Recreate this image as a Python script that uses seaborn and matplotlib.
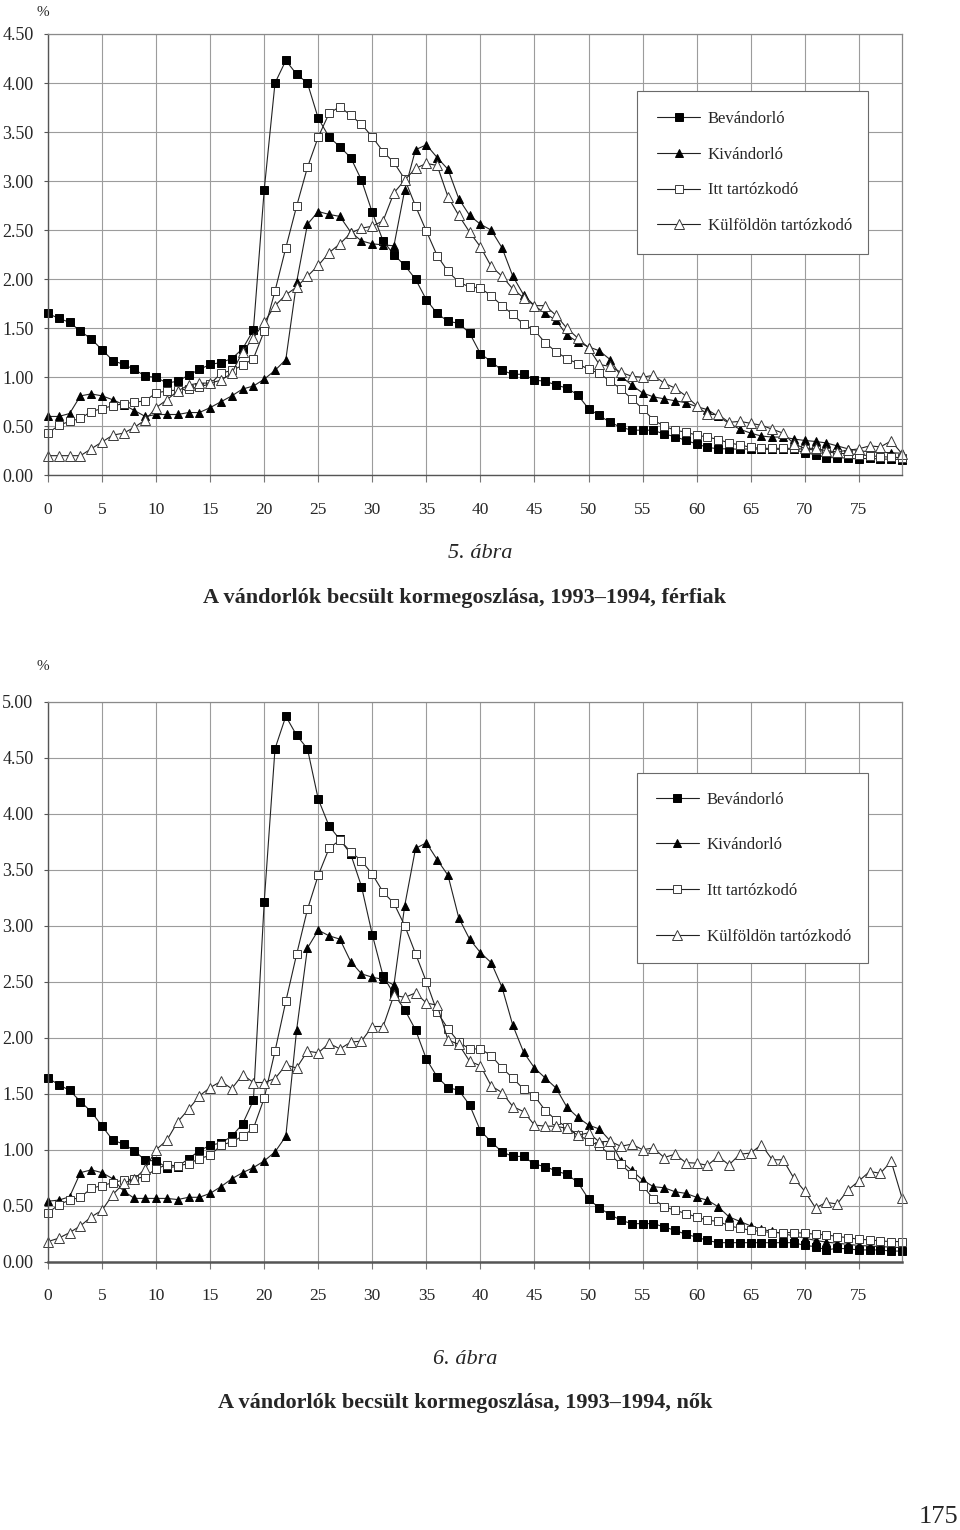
import numpy as np
import matplotlib
matplotlib.use("Agg")
import matplotlib.pyplot as plt
import seaborn as sns

# ---------------- data ----------------
ages = list(range(0, 80))
xtick_vals = list(range(0, 80, 5))
series_names = ["Bevándorló", "Kivándorló", "Itt tartózkodó", "Külföldön tartózkodó"]

# 5. ábra – férfiak
bev_m = [1.65, 1.60, 1.56, 1.47, 1.39, 1.28, 1.17, 1.13, 1.08, 1.01,
         1.00, 0.94, 0.96, 1.02, 1.08, 1.13, 1.15, 1.19, 1.29, 1.48,
         2.91, 4.00, 4.23, 4.09, 4.00, 3.64, 3.45, 3.35, 3.24, 3.01,
         2.68, 2.39, 2.25, 2.14, 2.00, 1.79, 1.65, 1.57, 1.55, 1.45,
         1.24, 1.16, 1.07, 1.03, 1.03, 0.97, 0.96, 0.92, 0.89, 0.82,
         0.68, 0.61, 0.54, 0.49, 0.46, 0.46, 0.46, 0.42, 0.395, 0.355,
         0.32, 0.285, 0.27, 0.27, 0.265, 0.27, 0.265, 0.265, 0.265, 0.265,
         0.23, 0.21, 0.18, 0.18, 0.175, 0.165, 0.175, 0.165, 0.165, 0.16]
kiv_m = [0.60, 0.60, 0.63, 0.81, 0.83, 0.81, 0.77, 0.72, 0.66, 0.60,
         0.62, 0.62, 0.62, 0.64, 0.64, 0.69, 0.75, 0.81, 0.88, 0.91,
         0.98, 1.07, 1.18, 1.97, 2.56, 2.69, 2.66, 2.64, 2.48, 2.39,
         2.36, 2.35, 2.34, 2.91, 3.32, 3.37, 3.24, 3.12, 2.82, 2.65,
         2.56, 2.50, 2.32, 2.03, 1.84, 1.73, 1.65, 1.58, 1.43, 1.36,
         1.31, 1.27, 1.18, 1.01, 0.92, 0.84, 0.80, 0.78, 0.76, 0.74,
         0.70, 0.67, 0.60, 0.53, 0.47, 0.43, 0.40, 0.39, 0.39, 0.37,
         0.355, 0.345, 0.33, 0.30, 0.27, 0.25, 0.24, 0.235, 0.23, 0.225]
itt_m = [0.43, 0.51, 0.55, 0.58, 0.65, 0.68, 0.71, 0.73, 0.745, 0.76,
         0.84, 0.86, 0.87, 0.88, 0.905, 0.93, 1.04, 1.07, 1.12, 1.19,
         1.47, 1.88, 2.32, 2.745, 3.14, 3.45, 3.69, 3.76, 3.67, 3.58,
         3.45, 3.30, 3.19, 3.02, 2.745, 2.49, 2.24, 2.08, 1.97, 1.92,
         1.91, 1.83, 1.73, 1.64, 1.54, 1.48, 1.35, 1.26, 1.19, 1.14,
         1.08, 1.04, 0.96, 0.88, 0.78, 0.68, 0.565, 0.50, 0.46, 0.44,
         0.41, 0.39, 0.365, 0.33, 0.31, 0.285, 0.275, 0.275, 0.275, 0.275,
         0.265, 0.26, 0.24, 0.225, 0.22, 0.21, 0.20, 0.19, 0.185, 0.18]
kulf_m = [0.20, 0.20, 0.20, 0.20, 0.27, 0.34, 0.41, 0.43, 0.49, 0.565,
          0.69, 0.77, 0.86, 0.92, 0.94, 0.94, 0.97, 1.04, 1.26, 1.40,
          1.56, 1.73, 1.84, 1.92, 2.03, 2.14, 2.27, 2.36, 2.47, 2.52,
          2.54, 2.595, 2.88, 3.01, 3.13, 3.18, 3.16, 2.84, 2.65, 2.48,
          2.33, 2.13, 2.03, 1.90, 1.81, 1.73, 1.73, 1.63, 1.50, 1.40,
          1.30, 1.13, 1.11, 1.05, 1.01, 1.00, 1.02, 0.94, 0.89, 0.81,
          0.71, 0.62, 0.62, 0.54, 0.55, 0.53, 0.51, 0.47, 0.43, 0.32,
          0.275, 0.275, 0.25, 0.24, 0.255, 0.27, 0.30, 0.29, 0.35, 0.22]

# 6. ábra – nők
bev_f = [1.64, 1.58, 1.53, 1.43, 1.34, 1.21, 1.085, 1.05, 0.99, 0.905,
         0.90, 0.84, 0.85, 0.92, 0.99, 1.04, 1.06, 1.12, 1.23, 1.44,
         3.21, 4.58, 4.87, 4.70, 4.58, 4.13, 3.89, 3.77, 3.64, 3.35,
         2.92, 2.55, 2.39, 2.25, 2.07, 1.81, 1.65, 1.555, 1.53, 1.40,
         1.17, 1.07, 0.98, 0.94, 0.94, 0.87, 0.85, 0.81, 0.78, 0.71,
         0.56, 0.48, 0.42, 0.37, 0.34, 0.34, 0.34, 0.31, 0.28, 0.245,
         0.22, 0.19, 0.17, 0.17, 0.17, 0.17, 0.17, 0.17, 0.17, 0.17,
         0.145, 0.135, 0.105, 0.12, 0.115, 0.105, 0.105, 0.105, 0.095, 0.095]
kiv_f = [0.54, 0.55, 0.58, 0.795, 0.82, 0.795, 0.74, 0.63, 0.565, 0.565,
         0.565, 0.565, 0.555, 0.575, 0.575, 0.61, 0.67, 0.74, 0.795, 0.84,
         0.90, 0.98, 1.12, 2.07, 2.80, 2.96, 2.91, 2.88, 2.68, 2.57,
         2.54, 2.52, 2.47, 3.18, 3.69, 3.74, 3.59, 3.45, 3.07, 2.88,
         2.76, 2.67, 2.45, 2.11, 1.87, 1.73, 1.64, 1.55, 1.38, 1.29,
         1.22, 1.185, 1.08, 0.90, 0.815, 0.73, 0.67, 0.66, 0.625, 0.61,
         0.575, 0.55, 0.49, 0.40, 0.36, 0.32, 0.29, 0.27, 0.25, 0.23,
         0.21, 0.19, 0.175, 0.165, 0.155, 0.145, 0.14, 0.135, 0.13, 0.125]
itt_f = [0.435, 0.51, 0.55, 0.575, 0.655, 0.68, 0.705, 0.73, 0.74, 0.76,
         0.83, 0.865, 0.855, 0.875, 0.92, 0.95, 1.04, 1.07, 1.12, 1.19,
         1.46, 1.88, 2.325, 2.745, 3.145, 3.45, 3.69, 3.765, 3.66, 3.58,
         3.46, 3.30, 3.20, 3.00, 2.75, 2.50, 2.23, 2.08, 1.96, 1.90,
         1.90, 1.84, 1.73, 1.64, 1.54, 1.48, 1.35, 1.265, 1.20, 1.135,
         1.08, 1.035, 0.955, 0.87, 0.78, 0.68, 0.56, 0.49, 0.46, 0.43,
         0.40, 0.37, 0.36, 0.32, 0.30, 0.28, 0.27, 0.26, 0.26, 0.26,
         0.255, 0.245, 0.24, 0.225, 0.215, 0.20, 0.195, 0.185, 0.18, 0.18]
kulf_f = [0.18, 0.21, 0.26, 0.32, 0.40, 0.46, 0.60, 0.70, 0.74, 0.83,
          1.00, 1.085, 1.25, 1.36, 1.48, 1.555, 1.61, 1.545, 1.67, 1.60,
          1.60, 1.635, 1.755, 1.73, 1.88, 1.865, 1.95, 1.90, 1.96, 1.97,
          2.10, 2.10, 2.38, 2.36, 2.40, 2.31, 2.29, 1.98, 1.94, 1.79,
          1.75, 1.57, 1.51, 1.385, 1.34, 1.22, 1.21, 1.21, 1.19, 1.13,
          1.15, 1.07, 1.075, 1.03, 1.05, 1.00, 1.015, 0.93, 0.96, 0.885,
          0.88, 0.86, 0.94, 0.865, 0.96, 0.97, 1.045, 0.91, 0.91, 0.745,
          0.63, 0.48, 0.53, 0.515, 0.64, 0.72, 0.805, 0.79, 0.895, 0.57]

yticks_top = [0.0, 0.5, 1.0, 1.5, 2.0, 2.5, 3.0, 3.5, 4.0, 4.5]
yticks_bot = [0.0, 0.5, 1.0, 1.5, 2.0, 2.5, 3.0, 3.5, 4.0, 4.5, 5.0]

fig_labels = ["5. ábra", "6. ábra"]
fig_titles = ["A vándorlók becsült kormegoszlása, 1993–1994, férfiak",
              "A vándorlók becsült kormegoszlása, 1993–1994, nők"]
page_number = "175"

# ---------------- style ----------------
sns.set_style("white")
plt.rcParams["font.family"] = ["Liberation Serif", "DejaVu Serif"]
plt.rcParams["mathtext.default"] = "regular"

styles = [
    dict(marker="s", markerfacecolor="black", markeredgecolor="black", markersize=5.5),
    dict(marker="^", markerfacecolor="black", markeredgecolor="black", markersize=6.2),
    dict(marker="s", markerfacecolor="white", markeredgecolor="#3a3a3a", markersize=6.0),
    dict(marker="^", markerfacecolor="white", markeredgecolor="#3a3a3a", markersize=6.7),
]

fig = plt.figure(figsize=(9.6, 15.3), dpi=100)
W, H = 960.0, 1530.0
ax_top = fig.add_axes([48 / W, 1 - 475.3 / H, 854 / W, (475.3 - 34) / H])
ax_bot = fig.add_axes([48 / W, 1 - 1261.7 / H, 854 / W, (1261.7 - 701.7) / H])


def draw_panel(ax, data, yticks, ymax, leg_box, labelspacing, borderpad, bottom_lw):
    for name, vals, st in zip(series_names, data, styles):
        sns.lineplot(x=ages, y=vals, ax=ax, color="#222222", linewidth=0.8,
                     markeredgewidth=0.7, label=name, clip_on=False, **st)
    ax.set_xlim(0, 79)
    ax.set_ylim(0, ymax)
    ax.set_xticks(xtick_vals)
    ax.set_xticklabels([str(v) for v in xtick_vals])
    ax.set_yticks(yticks)
    ax.set_yticklabels([f"{v:.2f}" for v in yticks])
    ax.set_xlabel("")
    ax.set_ylabel("")
    ax.grid(True, color="#9c9c9c", linewidth=0.8)
    ax.set_axisbelow(True)
    for side in ["top", "right"]:
        ax.spines[side].set_visible(True)
        ax.spines[side].set_color("#8a8a8a")
        ax.spines[side].set_linewidth(0.9)
    ax.spines["left"].set_color("#555555")
    ax.spines["left"].set_linewidth(1.0)
    ax.spines["bottom"].set_color("#555555")
    ax.spines["bottom"].set_linewidth(bottom_lw)
    ax.tick_params(axis="y", which="both", direction="out", length=3, width=0.8,
                   color="#555555", pad=7.5, labelsize=13, left=True)
    ax.tick_params(axis="x", which="both", direction="out", length=5, width=0.8,
                   color="#777777", pad=14, labelsize=12.5, bottom=True)
    leg = ax.legend(loc="upper left", bbox_to_anchor=leg_box, mode="expand",
                    borderaxespad=0, frameon=True, fancybox=False, framealpha=1,
                    edgecolor="#6a6a6a", fontsize=12, handlelength=2.6,
                    handletextpad=0.45, labelspacing=labelspacing,
                    borderpad=borderpad)
    leg.get_frame().set_linewidth(0.8)


draw_panel(ax_top, [bev_m, kiv_m, itt_m, kulf_m], yticks_top, 4.5,
           (0.6897, 0.4965, 0.2705, 0.3743), 1.18, 1.2, 1.0)
draw_panel(ax_bot, [bev_f, kiv_f, itt_f, kulf_f], yticks_bot, 5.0,
           (0.6897, 0.5298, 0.2705, 0.3429), 1.78, 1.12, 1.8)

# texts
fig.text(43 / W, 1 - 12 / H, "%", ha="center", va="center", fontsize=11)
fig.text(43 / W, 1 - 667 / H, "%", ha="center", va="center", fontsize=11)

fig.text(480 / W, 1 - 553 / H, fig_labels[0], ha="center", va="center",
         fontsize=16, style="italic")
fig.text(465 / W, 1 - 598 / H, fig_titles[0], ha="center", va="center",
         fontsize=16, weight="bold")
fig.text(465 / W, 1 - 1360 / H, fig_labels[1], ha="center", va="center",
         fontsize=16, style="italic")
fig.text(465 / W, 1 - 1403 / H, fig_titles[1], ha="center", va="center",
         fontsize=16, weight="bold")
fig.text(958 / W, 1 - 1517 / H, page_number, ha="right", va="center", fontsize=19)

fig.savefig("out.png", dpi=100, facecolor="white")
